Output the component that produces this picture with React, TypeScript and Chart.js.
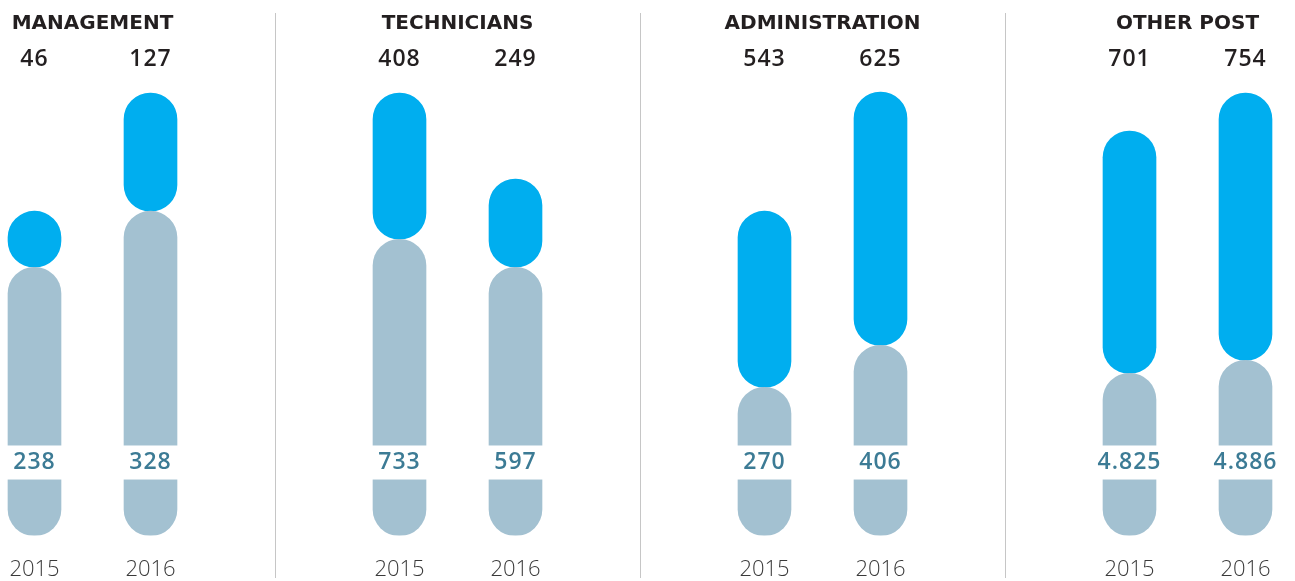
import React, { useEffect, useRef } from 'react';
import { Chart, registerables } from 'chart.js';

Chart.register(...registerables);

// ---- data ----
const categories = ['MANAGEMENT', 'TECHNICIANS', 'ADMINISTRATION', 'OTHER POST'];
const years = ['2015', '2016'];
// drawn bar lengths (infographic units, as measured on the picture)
const greyBarLengths = [[268, 324], [296, 268], [148, 190], [162, 175]];
const blueBarLengths = [[56, 118], [146, 88], [176, 253], [242, 267]];
// printed values
const greyValueLabels = [['238', '328'], ['733', '597'], ['270', '406'], ['4.825', '4.886']];
const blueValueLabels = [['46', '127'], ['408', '249'], ['543', '625'], ['701', '754']];

// ---- styles ----
const BLUE = '#00AEEF';
const GREY = '#A3C1D1';
const TEAL = '#3C7B95';
const DARK = '#231F20';
const YEAR = '#3a3a3a';
const PANEL_W = 365;
const PANEL_H = 604;
const FIRST_PANEL_LEFT = -90;
const Y_MAX = 491;
const BAND_LOW = 56;
const BAND_HIGH = 90;
const BAND_MID = 73;
const TOP_LABEL_Y = 59;

function makeLabelPlugin(idx: number) {
  return {
    id: 'valueLabels' + idx,
    afterDatasetsDraw(chart: any) {
      const ctx = chart.ctx as CanvasRenderingContext2D;
      const y = chart.scales.y;
      const meta = chart.getDatasetMeta(0);
      const top = y.getPixelForValue(BAND_HIGH);
      const bot = y.getPixelForValue(BAND_LOW);
      meta.data.forEach((bar: any, i: number) => {
        ctx.save();
        ctx.fillStyle = '#ffffff';
        ctx.fillRect(bar.x - 32, top, 64, bot - top);
        ctx.textAlign = 'center';
        ctx.textBaseline = 'middle';
        (ctx as any).letterSpacing = '1px';
        ctx.font = '600 23px "Open Sans"';
        ctx.fillStyle = TEAL;
        ctx.fillText(greyValueLabels[idx][i], bar.x, y.getPixelForValue(BAND_MID));
        ctx.fillStyle = DARK;
        ctx.fillText(blueValueLabels[idx][i], bar.x, TOP_LABEL_Y);
        ctx.restore();
      });
    },
  };
}

function Panel({ idx }: { idx: number }) {
  const ref = useRef<HTMLCanvasElement>(null);
  useEffect(() => {
    const radius = { topLeft: 26.5, topRight: 26.5, bottomLeft: 26.5, bottomRight: 26.5 };
    const chart = new Chart(ref.current as HTMLCanvasElement, {
      type: 'bar',
      data: {
        labels: years,
        datasets: [
          {
            label: 'grey',
            data: greyBarLengths[idx],
            backgroundColor: GREY,
            barThickness: 53,
            borderRadius: radius,
            borderSkipped: false,
          },
          {
            label: 'blue',
            data: blueBarLengths[idx],
            backgroundColor: BLUE,
            barThickness: 53,
            borderRadius: radius,
            borderSkipped: false,
          },
        ],
      },
      options: {
        animation: false,
        responsive: false,
        maintainAspectRatio: false,
        layout: { padding: { left: 66.5, right: 66.5, top: 0, bottom: 0 } },
        plugins: {
          legend: { display: false },
          tooltip: { enabled: false },
          title: {
            display: true,
            text: categories[idx],
            color: DARK,
            font: { family: '"DejaVu Sans"', weight: 'bold', size: 20 },
            padding: { top: 12, bottom: 8 },
          },
        },
        scales: {
          x: {
            stacked: true,
            grid: { display: false, drawTicks: false },
            border: { display: false },
            ticks: {
              padding: 21,
              color: YEAR,
              font: { family: '"Open Sans"', weight: '300', size: 22 },
            },
          },
          y: { stacked: true, display: false, min: 0, max: Y_MAX },
        },
      },
      plugins: [makeLabelPlugin(idx)],
    } as any);
    return () => chart.destroy();
  }, [idx]);
  return (
    <canvas
      ref={ref}
      width={PANEL_W}
      height={PANEL_H}
      style={{ position: 'absolute', left: FIRST_PANEL_LEFT + idx * PANEL_W, top: 0, width: PANEL_W, height: PANEL_H }}
    />
  );
}

export default function App() {
  return (
    <div style={{ position: 'absolute', left: 0, top: 0, width: 1295, height: 581, overflow: 'hidden', background: '#fff' }}>
      {categories.map((_, i) => (
        <Panel key={i} idx={i} />
      ))}
      {[1, 2, 3].map((i) => (
        <div
          key={'sep' + i}
          style={{
            position: 'absolute',
            left: FIRST_PANEL_LEFT + i * PANEL_W,
            top: 13,
            width: 1,
            height: 565,
            background: '#c6c6c6',
          }}
        />
      ))}
    </div>
  );
}
